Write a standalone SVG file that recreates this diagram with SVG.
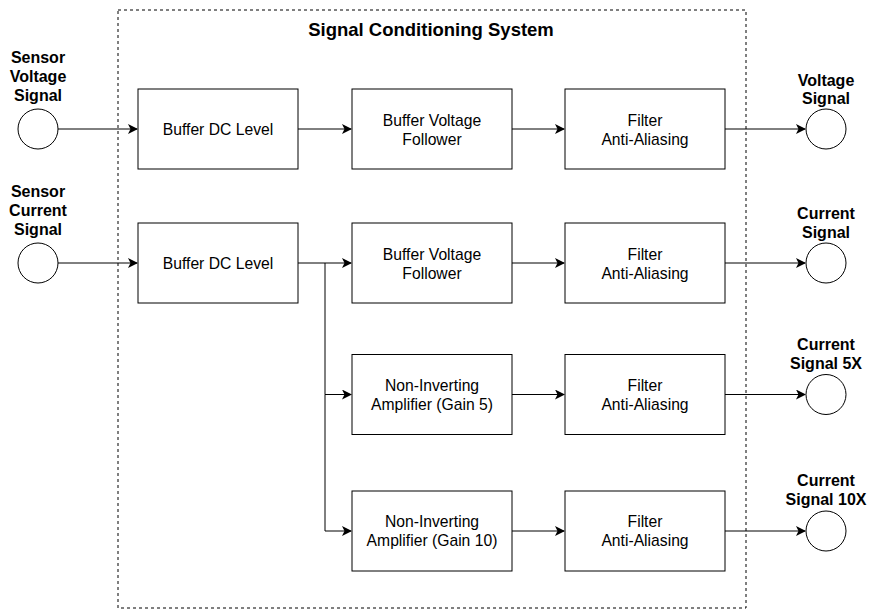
<svg xmlns="http://www.w3.org/2000/svg" width="869" height="610" viewBox="0 0 869 610">
<style>
text{font-family:"Liberation Sans",Arial,sans-serif;fill:#000}
.n{font-size:15.7px;text-anchor:middle}
.b{font-size:16px;font-weight:bold;text-anchor:middle}
.t{font-size:18.5px;font-weight:bold;text-anchor:middle}
rect.box{fill:#fff;stroke:#000;stroke-width:1}
circle{fill:#fff;stroke:#000;stroke-width:1}
.c{fill:none;stroke:#000;stroke-width:1}
</style>
<defs>
<marker id="arr" viewBox="0 0 10 10" refX="9" refY="5" markerWidth="10" markerHeight="10" markerUnits="userSpaceOnUse" orient="auto">
<path d="M0,0 L10,5 L0,10 L2.5,5 Z" fill="#000"/>
</marker>
</defs>
<rect id="container" x="118" y="10" width="628" height="598" fill="none" stroke="#000" stroke-dasharray="3,3"/>
<text class="t" x="431" y="36">Signal Conditioning System</text>
<g id="connectors">
<path class="c" d="M58,129 H137" marker-end="url(#arr)"/>
<path class="c" d="M298,129 H351" marker-end="url(#arr)"/>
<path class="c" d="M512,129 H564" marker-end="url(#arr)"/>
<path class="c" d="M725,129 H805" marker-end="url(#arr)"/>
<path class="c" d="M58,263 H137" marker-end="url(#arr)"/>
<path class="c" d="M298,263 H351" marker-end="url(#arr)"/>
<path class="c" d="M325,263 V394.5 H351" marker-end="url(#arr)"/>
<path class="c" d="M325,394.5 V531 H351" marker-end="url(#arr)"/>
<path class="c" d="M512,263 H564" marker-end="url(#arr)"/>
<path class="c" d="M512,394.5 H564" marker-end="url(#arr)"/>
<path class="c" d="M512,531 H564" marker-end="url(#arr)"/>
<path class="c" d="M725,263 H805" marker-end="url(#arr)"/>
<path class="c" d="M725,394.5 H805" marker-end="url(#arr)"/>
<path class="c" d="M725,531 H805" marker-end="url(#arr)"/>
</g>
<g id="in-voltage"><circle cx="38" cy="129" r="20"/><text class="b" x="38" y="63">Sensor</text><text class="b" x="38" y="82">Voltage</text><text class="b" x="38" y="101">Signal</text></g>
<g id="in-current"><circle cx="38" cy="263" r="20"/><text class="b" x="38" y="197">Sensor</text><text class="b" x="38" y="216">Current</text><text class="b" x="38" y="235">Signal</text></g>
<g id="buf1"><rect class="box" x="138" y="89" width="160" height="80"/><text class="n" x="218" y="135">Buffer DC Level</text></g>
<g id="vf1"><rect class="box" x="352" y="89" width="160" height="80"/><text class="n" x="432" y="126">Buffer Voltage</text><text class="n" x="432" y="145">Follower</text></g>
<g id="f1"><rect class="box" x="565" y="89" width="160" height="80"/><text class="n" x="645" y="126">Filter</text><text class="n" x="645" y="145">Anti-Aliasing</text></g>
<g id="buf2"><rect class="box" x="138" y="223" width="160" height="80"/><text class="n" x="218" y="269">Buffer DC Level</text></g>
<g id="vf2"><rect class="box" x="352" y="223" width="160" height="80"/><text class="n" x="432" y="260">Buffer Voltage</text><text class="n" x="432" y="279">Follower</text></g>
<g id="f2"><rect class="box" x="565" y="223" width="160" height="80"/><text class="n" x="645" y="260">Filter</text><text class="n" x="645" y="279">Anti-Aliasing</text></g>
<g id="amp5"><rect class="box" x="352" y="354.5" width="160" height="80"/><text class="n" x="432" y="391">Non-Inverting</text><text class="n" x="432" y="410">Amplifier (Gain 5)</text></g>
<g id="f3"><rect class="box" x="565" y="354.5" width="160" height="80"/><text class="n" x="645" y="391">Filter</text><text class="n" x="645" y="410">Anti-Aliasing</text></g>
<g id="amp10"><rect class="box" x="352" y="491" width="160" height="80"/><text class="n" x="432" y="527">Non-Inverting</text><text class="n" x="432" y="546">Amplifier (Gain 10)</text></g>
<g id="f4"><rect class="box" x="565" y="491" width="160" height="80"/><text class="n" x="645" y="527">Filter</text><text class="n" x="645" y="546">Anti-Aliasing</text></g>
<g id="out-voltage"><circle cx="826" cy="129" r="20"/><text class="b" x="826" y="86">Voltage</text><text class="b" x="826" y="104">Signal</text></g>
<g id="out-current"><circle cx="826" cy="263" r="20"/><text class="b" x="826" y="219">Current</text><text class="b" x="826" y="238">Signal</text></g>
<g id="out-5x"><circle cx="826" cy="394.5" r="20"/><text class="b" x="826" y="350">Current</text><text class="b" x="826" y="369">Signal 5X</text></g>
<g id="out-10x"><circle cx="826" cy="531" r="20"/><text class="b" x="826" y="486">Current</text><text class="b" x="826" y="505">Signal 10X</text></g>
</svg>
